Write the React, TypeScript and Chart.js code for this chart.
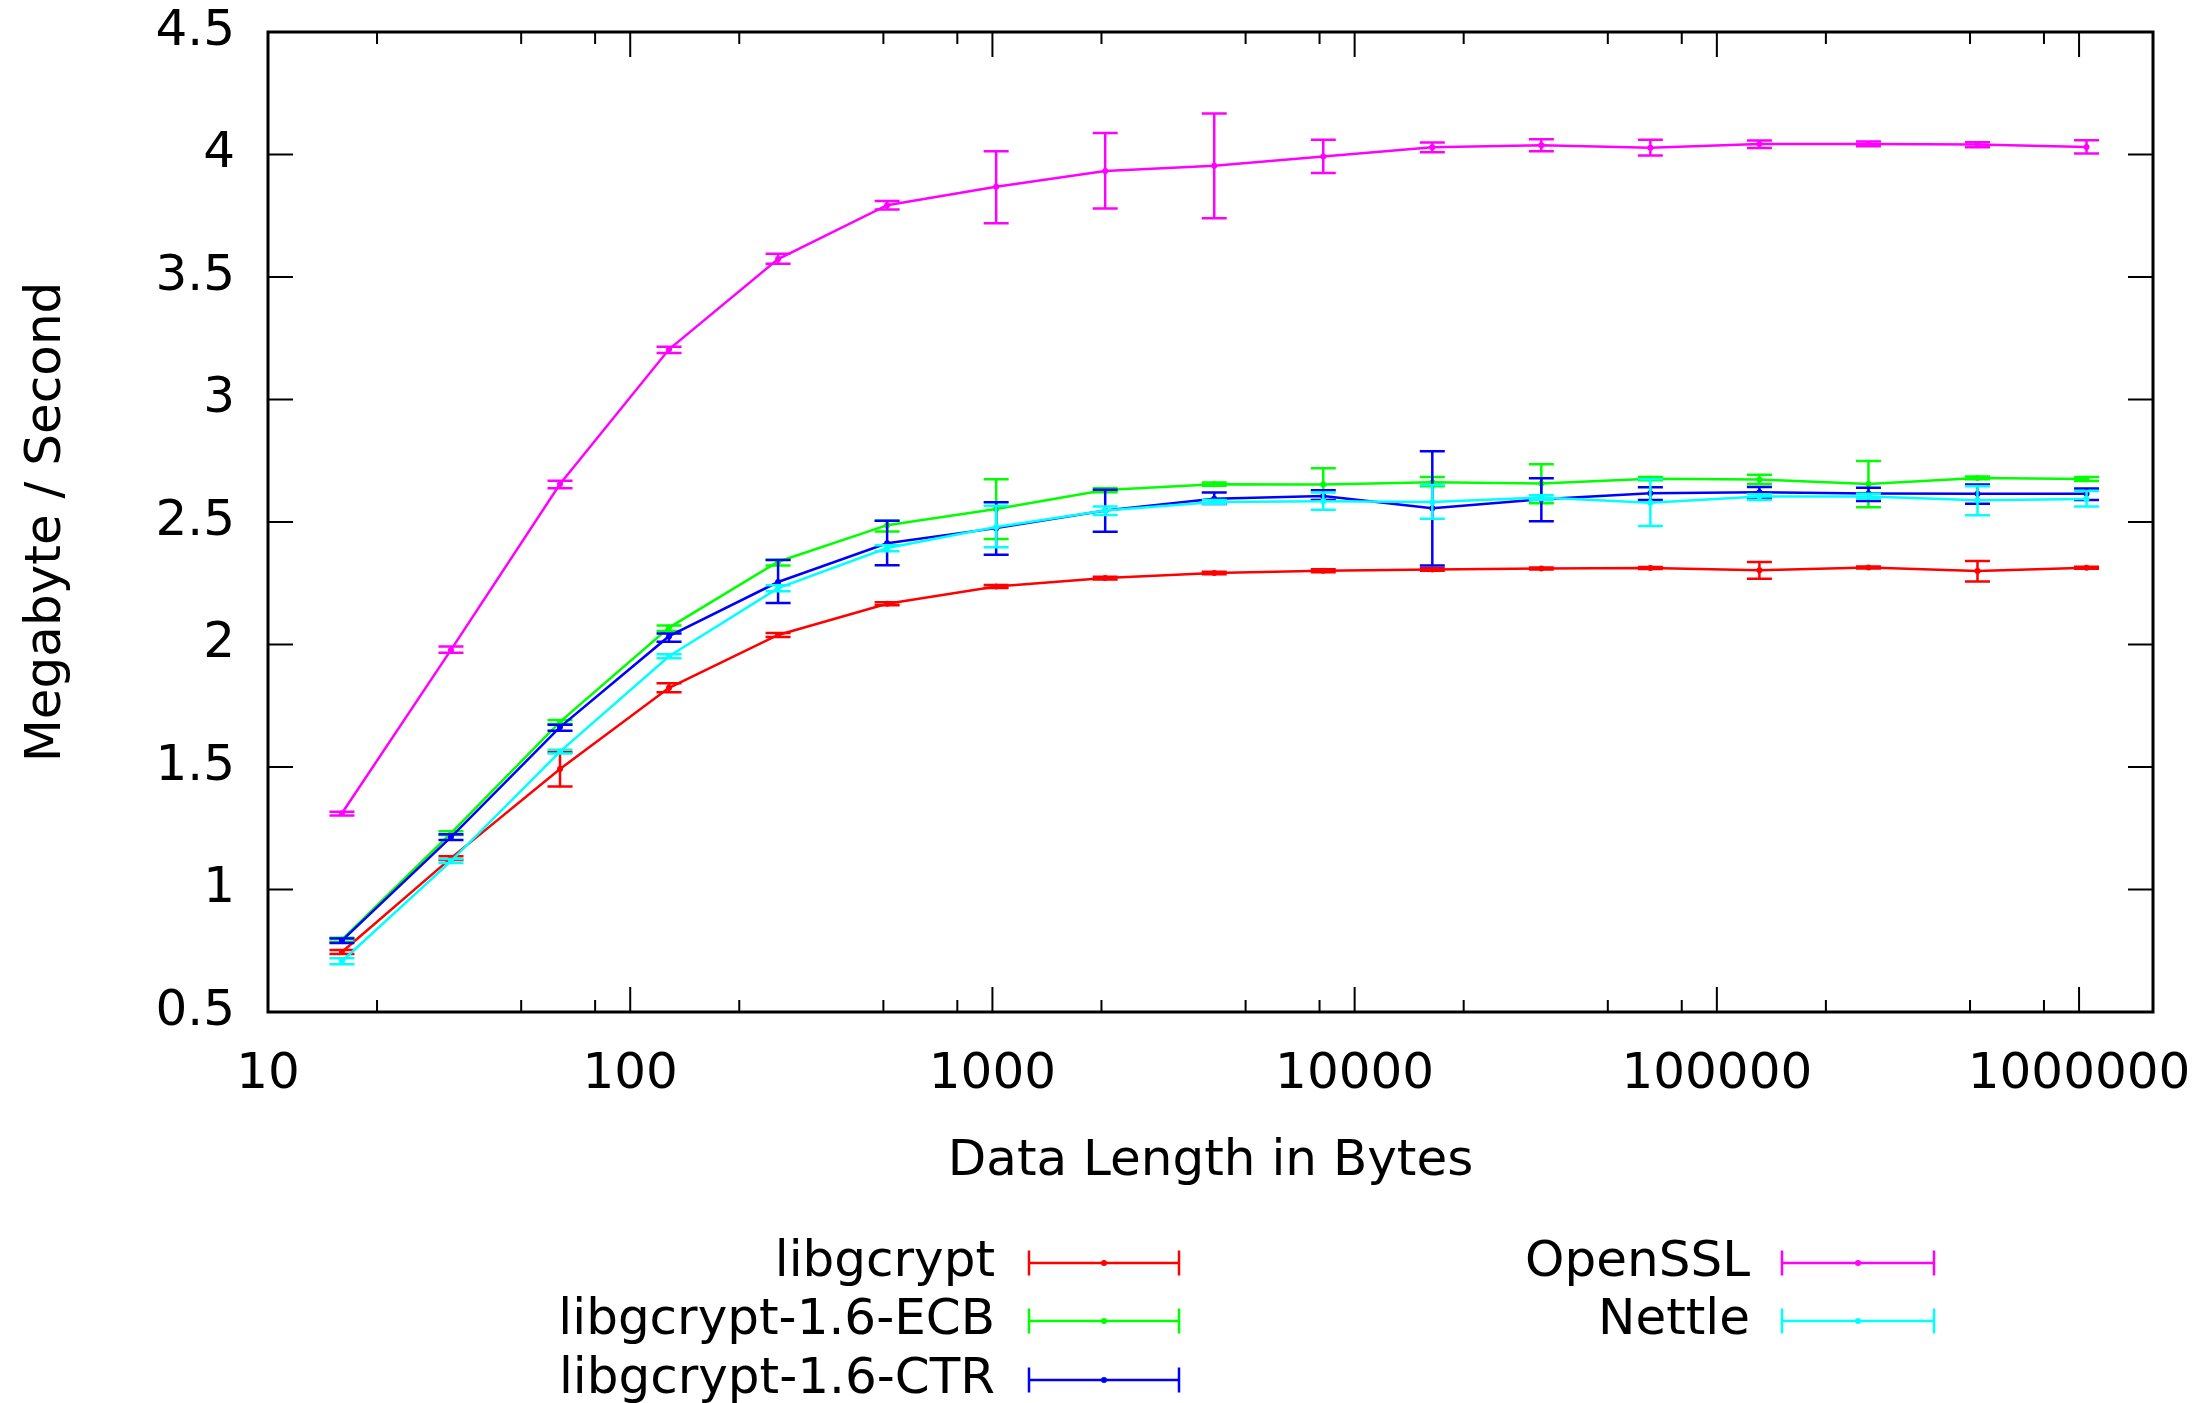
import React, { useEffect, useRef } from 'react';
import { Chart, registerables } from 'chart.js';

Chart.register(...registerables);

// ---------- data ----------
const dataLengths = [16, 32, 64, 128, 256, 512, 1024, 2048, 4096, 8192, 16384, 32768, 65536, 131072, 262144, 524288, 1048576];

const seriesNames = ['libgcrypt', 'libgcrypt-1.6-ECB', 'libgcrypt-1.6-CTR', 'OpenSSL', 'Nettle'];
const seriesColors = ['#ff0000', '#00ff00', '#0000ff', '#ff00ff', '#00ffff'];

const libgcryptMean = [0.745, 1.128, 1.492, 1.823, 2.039, 2.166, 2.237, 2.271, 2.292, 2.301, 2.306, 2.310, 2.312, 2.303, 2.314, 2.300, 2.313];
const libgcryptLow = [0.737, 1.120, 1.420, 1.805, 2.031, 2.160, 2.231, 2.265, 2.287, 2.295, 2.301, 2.306, 2.308, 2.268, 2.310, 2.257, 2.309];
const libgcryptHigh = [0.753, 1.136, 1.560, 1.842, 2.047, 2.172, 2.243, 2.277, 2.297, 2.307, 2.311, 2.314, 2.316, 2.337, 2.318, 2.341, 2.317];

const ecbMean = [0.795, 1.230, 1.684, 2.069, 2.338, 2.487, 2.553, 2.631, 2.654, 2.653, 2.662, 2.657, 2.677, 2.673, 2.655, 2.680, 2.676];
const ecbLow = [0.787, 1.222, 1.676, 2.055, 2.322, 2.461, 2.431, 2.621, 2.648, 2.590, 2.646, 2.577, 2.670, 2.655, 2.560, 2.674, 2.667];
const ecbHigh = [0.803, 1.238, 1.692, 2.078, 2.346, 2.505, 2.675, 2.638, 2.661, 2.719, 2.684, 2.736, 2.684, 2.693, 2.749, 2.686, 2.684];

const ctrMean = [0.791, 1.214, 1.663, 2.034, 2.255, 2.413, 2.475, 2.547, 2.595, 2.606, 2.556, 2.593, 2.617, 2.621, 2.616, 2.615, 2.615];
const ctrLow = [0.782, 1.202, 1.648, 2.011, 2.169, 2.323, 2.366, 2.460, 2.573, 2.590, 2.322, 2.503, 2.590, 2.597, 2.586, 2.575, 2.590];
const ctrHigh = [0.800, 1.226, 1.672, 2.045, 2.345, 2.505, 2.581, 2.632, 2.620, 2.630, 2.789, 2.679, 2.642, 2.643, 2.640, 2.653, 2.637];

const opensslMean = [1.311, 1.978, 2.655, 3.205, 3.573, 3.793, 3.868, 3.933, 3.954, 3.992, 4.030, 4.038, 4.028, 4.043, 4.043, 4.041, 4.031];
const opensslLow = [1.302, 1.966, 2.638, 3.190, 3.554, 3.776, 3.719, 3.780, 3.740, 3.925, 4.009, 4.013, 3.996, 4.027, 4.034, 4.030, 4.004];
const opensslHigh = [1.317, 1.992, 2.668, 3.215, 3.595, 3.810, 4.013, 4.088, 4.167, 4.060, 4.049, 4.062, 4.060, 4.057, 4.053, 4.050, 4.058];

const nettleMean = [0.707, 1.116, 1.563, 1.952, 2.230, 2.394, 2.480, 2.547, 2.582, 2.585, 2.582, 2.600, 2.579, 2.604, 2.604, 2.589, 2.594];
const nettleLow = [0.695, 1.108, 1.555, 1.944, 2.217, 2.381, 2.397, 2.529, 2.574, 2.550, 2.513, 2.590, 2.484, 2.590, 2.596, 2.528, 2.563];
const nettleHigh = [0.719, 1.124, 1.570, 1.960, 2.242, 2.405, 2.566, 2.563, 2.590, 2.620, 2.651, 2.609, 2.674, 2.613, 2.615, 2.646, 2.627];

const seriesMeans = [libgcryptMean, ecbMean, ctrMean, opensslMean, nettleMean];
const seriesLows = [libgcryptLow, ecbLow, ctrLow, opensslLow, nettleLow];
const seriesHighs = [libgcryptHigh, ecbHigh, ctrHigh, opensslHigh, nettleHigh];

const xMajorTicks = [10, 100, 1000, 10000, 100000, 1000000];
const xTickLabels = ['10', '100', '1000', '10000', '100000', '1000000'];
const xMinorTicks = [20, 50, 80, 200, 500, 800, 2000, 5000, 8000, 20000, 50000, 80000, 200000, 500000, 800000];
const yTickValues = [0.5, 1, 1.5, 2, 2.5, 3, 3.5, 4, 4.5];
const yTickLabels = ['0.5', '1', '1.5', '2', '2.5', '3', '3.5', '4', '4.5'];

const xTitle = 'Data Length in Bytes';
const yTitle = 'Megabyte / Second';

// ---------- styling ----------
const FONT = '"DejaVu Sans", sans-serif';
const FS = 50;
const W = 2198;
const H = 1403;
const CAP = 12.5;
const LW = 2.5;

const errorBarPlugin = {
  id: 'errorBars',
  afterDatasetDraw(chart: any, args: any) {
    const ds = chart.data.datasets[args.index];
    const xs = chart.scales.x;
    const ys = chart.scales.y;
    const ctx = chart.ctx;
    ctx.save();
    ctx.strokeStyle = ds.borderColor;
    ctx.lineWidth = LW;
    ctx.lineCap = 'butt';
    ds.errLow.forEach((lo: number, j: number) => {
      const hi = ds.errHigh[j];
      const px = xs.getPixelForValue(dataLengths[j]);
      const pl = ys.getPixelForValue(lo);
      const ph = ys.getPixelForValue(hi);
      ctx.beginPath();
      ctx.moveTo(px, pl);
      ctx.lineTo(px, ph);
      ctx.moveTo(px - CAP, pl);
      ctx.lineTo(px + CAP, pl);
      ctx.moveTo(px - CAP, ph);
      ctx.lineTo(px + CAP, ph);
      ctx.stroke();
    });
    ctx.restore();
  },
};

const framePlugin = {
  id: 'gnuFrame',
  afterDraw(chart: any) {
    const { ctx, chartArea: a, scales } = chart;
    const xs = scales.x;
    const ys = scales.y;
    ctx.save();
    ctx.strokeStyle = '#000';
    ctx.lineWidth = 2;
    ctx.beginPath();
    const major = 25;
    const minor = 12;
    xMajorTicks.forEach((v) => {
      const px = xs.getPixelForValue(v);
      ctx.moveTo(px, a.bottom);
      ctx.lineTo(px, a.bottom - major);
      ctx.moveTo(px, a.top);
      ctx.lineTo(px, a.top + major);
    });
    xMinorTicks.forEach((v) => {
      const px = xs.getPixelForValue(v);
      ctx.moveTo(px, a.bottom);
      ctx.lineTo(px, a.bottom - minor);
      ctx.moveTo(px, a.top);
      ctx.lineTo(px, a.top + minor);
    });
    yTickValues.forEach((v) => {
      const py = ys.getPixelForValue(v);
      ctx.moveTo(a.left, py);
      ctx.lineTo(a.left + major, py);
      ctx.moveTo(a.right, py);
      ctx.lineTo(a.right - major, py);
    });
    ctx.stroke();
    ctx.lineWidth = 3;
    ctx.strokeRect(a.left, a.top, a.right - a.left, a.bottom - a.top);

    // axis titles
    ctx.fillStyle = '#000';
    ctx.font = `${FS}px ${FONT}`;
    ctx.textAlign = 'center';
    ctx.textBaseline = 'middle';
    ctx.fillText(xTitle, (a.left + a.right) / 2, 1162);
    ctx.save();
    ctx.translate(47, (a.top + a.bottom) / 2);
    ctx.rotate(-Math.PI / 2);
    ctx.fillText(yTitle, 0, 0);
    ctx.restore();

    // legend (gnuplot style, two columns)
    const rows = [1263, 1321, 1380];
    const cols = [
      { textRight: 995, s0: 1029, s1: 1179 },
      { textRight: 1750, s0: 1782, s1: 1934 },
    ];
    const items = chart.data.datasets.map((d: any) => ({ label: d.label, color: d.borderColor }));
    items.forEach((it: any, i: number) => {
      const col = i < 3 ? cols[0] : cols[1];
      const y = rows[i < 3 ? i : i - 3];
      ctx.fillStyle = '#000';
      ctx.textAlign = 'right';
      ctx.textBaseline = 'middle';
      ctx.fillText(it.label, col.textRight, y);
      ctx.strokeStyle = it.color;
      ctx.lineWidth = LW;
      ctx.beginPath();
      ctx.moveTo(col.s0, y);
      ctx.lineTo(col.s1, y);
      ctx.moveTo(col.s0, y - CAP);
      ctx.lineTo(col.s0, y + CAP);
      ctx.moveTo(col.s1, y - CAP);
      ctx.lineTo(col.s1, y + CAP);
      ctx.stroke();
      ctx.fillStyle = it.color;
      ctx.beginPath();
      ctx.arc((col.s0 + col.s1) / 2, y, 3, 0, Math.PI * 2);
      ctx.fill();
    });
    ctx.restore();
  },
};

export default function App() {
  const ref = useRef<HTMLCanvasElement | null>(null);

  useEffect(() => {
    if (!ref.current) return;
    const n = seriesNames.length;
    const datasets = seriesNames.map((name, i) => ({
      label: name,
      data: dataLengths.map((x, j) => ({ x, y: seriesMeans[i][j] })),
      errLow: seriesLows[i],
      errHigh: seriesHighs[i],
      borderColor: seriesColors[i],
      backgroundColor: seriesColors[i],
      borderWidth: LW,
      pointRadius: 3,
      pointBorderWidth: 0,
      pointBackgroundColor: seriesColors[i],
      tension: 0,
      order: n - i,
    }));

    const chart = new Chart(ref.current, {
      type: 'line',
      data: { datasets } as any,
      options: {
        animation: false,
        responsive: false,
        devicePixelRatio: 1,
        layout: { padding: { left: 0, top: 32, right: 45, bottom: 0 } },
        plugins: { legend: { display: false }, tooltip: { enabled: false } },
        scales: {
          x: {
            type: 'logarithmic',
            min: 10,
            max: 1600000,
            bounds: 'data',
            afterBuildTicks: (s: any) => {
              s.ticks = xMajorTicks.map((v) => ({ value: v }));
            },
            afterFit: (s: any) => {
              s.height = H - 1012;
              s.paddingLeft = 0;
              s.paddingRight = 0;
              s.paddingTop = 0;
              s.paddingBottom = 0;
            },
            grid: { display: false, drawTicks: false },
            border: { display: false },
            ticks: {
              autoSkip: false,
              maxRotation: 0,
              minRotation: 0,
              padding: 33,
              color: '#000',
              font: { family: FONT, size: FS },
              callback: (_v: any, i: number) => xTickLabels[i],
            },
          },
          y: {
            type: 'linear',
            min: 0.5,
            max: 4.5,
            afterBuildTicks: (s: any) => {
              s.ticks = yTickValues.map((v) => ({ value: v }));
            },
            afterFit: (s: any) => {
              s.width = 268;
              s.paddingLeft = 0;
              s.paddingRight = 0;
              s.paddingTop = 0;
              s.paddingBottom = 0;
            },
            grid: { display: false, drawTicks: false },
            border: { display: false },
            ticks: {
              padding: 33,
              color: '#000',
              font: { family: FONT, size: FS },
              callback: (_v: any, i: number) => yTickLabels[i],
            },
          },
        },
      } as any,
      plugins: [errorBarPlugin, framePlugin],
    });
    return () => chart.destroy();
  }, []);

  return (
    <div style={{ position: 'absolute', left: 0, top: 0, width: W, height: H, background: '#fff' }}>
      <canvas ref={ref} width={W} height={H} style={{ width: W, height: H, display: 'block' }} />
    </div>
  );
}
